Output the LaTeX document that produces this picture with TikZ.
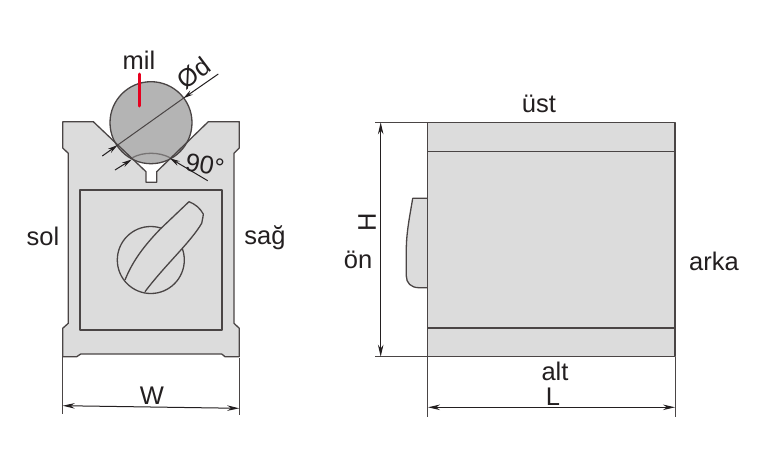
\documentclass[tikz,border=0pt]{standalone}
\usepackage{fontspec}
\setmainfont{Liberation Sans}
\usetikzlibrary{arrows.meta}
\definecolor{bodygrey}{HTML}{DCDCDC}
\definecolor{shaftgrey}{HTML}{B4B4B4}
\definecolor{linegrey}{HTML}{4A4545}
\definecolor{milred}{HTML}{E6001F}
\definecolor{textgrey}{HTML}{231F20}
\tikzset{
  outline/.style={draw=linegrey,line width=1.3pt,line join=round},
  thin dim/.style={draw=linegrey,line width=1pt},
  dimline/.style={draw=textgrey,line width=1pt,{Stealth[length=12pt,width=5.5pt]}-{Stealth[length=12pt,width=5.5pt]}},
  inarrow/.style={draw=textgrey,line width=1pt,-{Stealth[length=10pt,width=5pt]}},
  label/.style={text=textgrey,font=\fontsize{25.5}{28}\selectfont,inner sep=0pt},
}
\begin{document}
\begin{tikzpicture}[x=1pt,y=-1pt]
\useasboundingbox (0,0) rectangle (776,466);
\fill[white] (0,0) rectangle (776,466);
% --- front view body
\def\bodypath{(62.7,121.7) -- (93.3,121.7) -- (146,171.7) -- (146,182.3) -- (156.7,182.3) -- (156.7,171.7) -- (208.3,121.7) -- (239.3,121.7) -- (239.3,148) -- (234,153.3) -- (234,323.3) -- (239.3,328.3) -- (239.3,356.7) -- (225,356.7) -- (221.7,354) -- (80.7,354) -- (76.7,356.7) -- (62.7,356.7) -- (62.7,328.3) -- (68.3,323.3) -- (68.3,153.3) -- (62.7,148) -- cycle}
\fill[bodygrey] \bodypath;
\fill[white] (132.3,158) -- (146,171.7) -- (146,182.3) -- (156.7,182.3) -- (156.7,171.7) -- (170,158) -- cycle;
% --- shaft
\draw[outline,fill=shaftgrey] (151,122.7) circle[radius=41];
\draw[outline] \bodypath;
\draw[outline,draw=linegrey!75] (132.3,157.7) .. controls (143,151.8) and (159,151.8) .. (170,157.7);
% --- front plate and knob
\draw[outline,fill=bodygrey] (80,190) rectangle (222,330);
\draw[outline] (150.8,260) circle[radius=33.5];
\fill[bodygrey] (125,280) .. controls (133,260) and (145,245) .. (160,229.3) -- (189,201.7) .. controls (195,204) and (200,208) .. (203.3,214) .. controls (203,218) and (202,221) .. (201.7,223.3) .. controls (190,243) and (165,265) .. (145,291.7) -- cycle;
\draw[outline] (125,280) .. controls (133,260) and (145,245) .. (160,229.3) -- (189,201.7) .. controls (195,204) and (200,208) .. (203.3,214) .. controls (203,218) and (202,221) .. (201.7,223.3) .. controls (190,243) and (165,265) .. (145,291.7);
% --- dimension points
\coordinate (dA) at (102.3,156);
\coordinate (dB) at (117.7,145);
\coordinate (dC) at (183.3,98.3);
\coordinate (dD) at (218.3,74);
\coordinate (aA) at (115,170);
\coordinate (aB) at (131.7,159.5);
\coordinate (aC) at (207.7,180.7);
\coordinate (aD) at (170,158.3);
\coordinate (wA) at (62.7,405.7);
\coordinate (wB) at (239.2,408.3);
\coordinate (hA) at (380.7,122.3);
\coordinate (hB) at (380.7,356.7);
\coordinate (lA) at (428,407.3);
\coordinate (lB) at (675,407.3);
\draw[inarrow] (dA) -- (dB);
\draw[inarrow] (dD) -- (dC);
\draw[thin dim] (dB) -- (dC);
\draw[inarrow] (aA) -- (aB);
\draw[inarrow] (aC) -- (aD);
\draw[milred,line width=3pt,line cap=round] (139,74) -- (139,106);
% --- W dimension
\draw[thin dim] (62.7,357) -- (62.7,413.5);
\draw[thin dim] (239.2,358) -- (239.2,415);
\draw[dimline] (wA) -- (wB);
% --- side view
\draw[outline,fill=bodygrey] (427.5,198.3) -- (412.7,198.3) .. controls (410,215) and (406.3,232) .. (406.3,250) -- (406.3,276) .. controls (406.3,283) and (411,287.7) .. (419,287.7) -- (427.5,287.7);
\draw[outline,fill=bodygrey] (427.5,122.3) rectangle (675,356.7);
\draw[outline] (427.5,151.3) -- (675,151.3);
\draw[outline] (427.5,328) -- (675,328);
\draw[thin dim] (375,122.3) -- (427.5,122.3);
\draw[thin dim] (375,356.7) -- (427.5,356.7);
\draw[dimline] (hA) -- (hB);
\draw[thin dim] (427.5,357) -- (427.5,417);
\draw[thin dim] (675,357) -- (675,417);
\draw[dimline] (lA) -- (lB);
% --- labels
\node[label] (mil) at (139,60) {mil};
\node[label,rotate=37] (od) at (194,73) {Ød};
\node[label,rotate=-10] (ninety) at (205,165) {90°};
\node[label] (sol) at (43,236) {sol};
\node[label] (sag) at (265,238) {sağ};
\node[label] (w) at (152,396) {W};
\node[label] (ust) at (539,104) {üst};
\node[label,rotate=90] (h) at (367,222) {H};
\node[label] (on) at (358,260) {ön};
\node[label] (arka) at (714,261) {arka};
\node[label] (alt) at (555,371) {alt};
\node[label] (l) at (553,397) {L};
\end{tikzpicture}
\end{document}
